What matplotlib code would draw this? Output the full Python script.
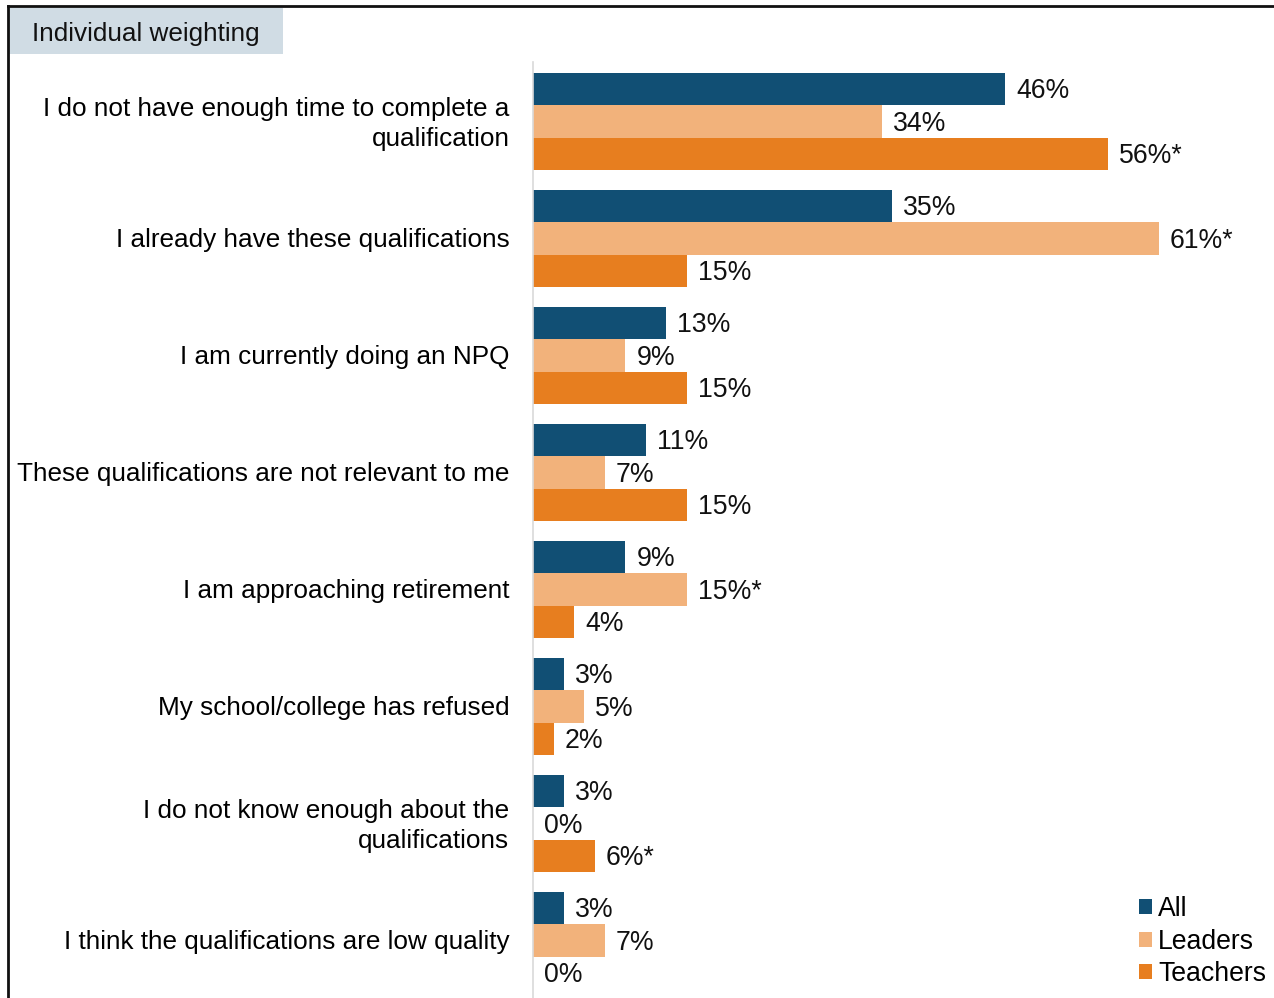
import matplotlib
matplotlib.use('Agg')
import matplotlib.pyplot as plt
import matplotlib.transforms as mtransforms
from matplotlib.patches import Patch, Rectangle
from matplotlib.lines import Line2D
import numpy as np

plt.rcParams['font.family'] = ['Liberation Sans', 'DejaVu Sans']

categories = [
    'I do not have enough time to complete a\nqualification',
    'I already have these qualifications',
    'I am currently doing an NPQ',
    'These qualifications are not relevant to me',
    'I am approaching retirement',
    'My school/college has refused',
    'I do not know enough about the\nqualifications',
    'I think the qualifications are low quality',
]
all_vals = [46, 35, 13, 11, 9, 3, 3, 3]
leaders_vals = [34, 61, 9, 7, 15, 5, 0, 7]
teachers_vals = [56, 15, 15, 15, 4, 2, 6, 0]
# significant differences flagged with an asterisk
all_sig = [False] * 8
leaders_sig = [False, True, False, False, True, False, False, False]
teachers_sig = [True, False, False, False, False, False, True, False]

series_names = ['All', 'Leaders', 'Teachers']
colors = ['#114f74', '#f2b27b', '#e77e1f']

W, H = 1274, 998
fig = plt.figure(figsize=(W / 100, H / 100), dpi=100)

ax_left, ax_top = 533, 62
ax = fig.add_axes([ax_left / W, 0, (W - ax_left) / W, (H - ax_top) / H])

fs = 18.8
bar_h = 0.278
y = np.arange(len(categories))
series = [(all_vals, all_sig), (leaders_vals, leaders_sig), (teachers_vals, teachers_sig)]
for k, ((vals, sig), color) in enumerate(zip(series, colors)):
    ypos = y + (k - 1) * bar_h
    ax.barh(ypos, vals, height=bar_h, color=color, edgecolor='none')
    for yy, v, s in zip(ypos, vals, sig):
        ax.annotate(f'{v}%' + ('*' if s else ''), xy=(v, yy), xytext=(8, -1.5),
                    textcoords='offset points', va='center', ha='left',
                    fontsize=19.2, color='#111111')

ax.set_xlim(0, (W - ax_left) / 10.26)
ax.set_ylim(7.49, -0.509)
ax.set_yticks(y)
ax.set_yticklabels(categories, fontsize=fs, linespacing=1.31)
ax.tick_params(axis='y', length=0, pad=17)
# nudge labels up a little; wrapped ones sit lower by default
for lbl in ax.get_yticklabels():
    dy = 3 if '\n' in lbl.get_text() else 1
    lbl.set_transform(lbl.get_transform() +
                      mtransforms.ScaledTranslation(0, dy / 100, fig.dpi_scale_trans))
ax.set_xticks([])
for side in ['top', 'right', 'bottom']:
    ax.spines[side].set_visible(False)
ax.spines['left'].set_color('#d9d9d9')
ax.spines['left'].set_linewidth(1.2)

handles = [Patch(facecolor=c, edgecolor='none') for c in colors]
fig.legend(handles, series_names, loc='lower right',
           bbox_to_anchor=(1266 / W, 11 / H), frameon=False, fontsize=19.2,
           handlelength=0.5, handleheight=0.5, handletextpad=0.23,
           labelspacing=0.24, borderpad=0, borderaxespad=0)

# outer frame (top and left edges) and the weighting tag
fig.add_artist(Line2D([8 / W, 1], [1 - 6 / H, 1 - 6 / H], color='#111111', lw=2,
                      transform=fig.transFigure))
fig.add_artist(Line2D([8 / W, 8 / W], [0, 1 - 6 / H], color='#111111', lw=2,
                      transform=fig.transFigure))
fig.add_artist(Rectangle((9 / W, 1 - 54 / H), 274 / W, 46 / H, facecolor='#d0dce4',
                         edgecolor='none', transform=fig.transFigure))
fig.text(32 / W, 1 - 34 / H, 'Individual weighting', fontsize=fs, va='center',
         ha='left', color='#111111')

fig.savefig('out.png', dpi=100)
